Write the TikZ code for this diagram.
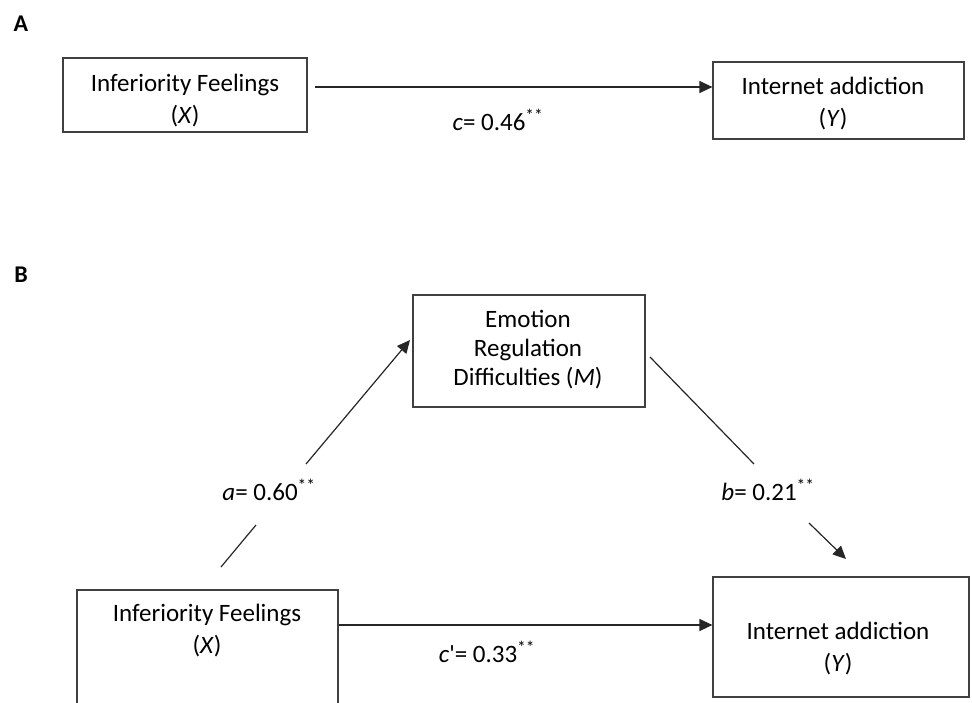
\documentclass[tikz,border=0pt]{standalone}
\usepackage{fontspec}
\setmainfont{Carlito}
\usetikzlibrary{arrows.meta}
\begin{document}
\begin{tikzpicture}[x=1pt,y=-1pt,
  box/.style={draw=black!75, line width=1.2pt, inner sep=0pt},
  txt/.style={align=center, inner sep=0pt, font=\fontsize{25}{32}\selectfont},
  lab/.style={inner sep=0pt, font=\fontsize{25}{30}\selectfont},
  panel/.style={inner sep=0pt, font=\bfseries\fontsize{24}{28}\selectfont},
  conn/.style={draw=black!85, line width=1.2pt},
  arr/.style={conn, -{Triangle[length=13pt,width=12pt]}}]
\clip (0,0) rectangle (972,702);
\fill[white] (0,0) rectangle (972,702);
% panel labels
\node[panel] (pA) at (21,24) {A};
\node[panel] (pB) at (21,275) {B};
% panel A
\node[box, minimum width=244pt, minimum height=74pt] (topX) at (185,95) {};
\node[txt] (topXt) at (185,101) {Inferiority Feelings\\(\textit{X})};
\node[box, minimum width=251pt, minimum height=77pt] (topY) at (838.5,100.5) {};
\node[txt] (topYt) at (833,104) {Internet addiction\\(\textit{Y})};
\coordinate (cs) at (315,87);
\draw[arr] (cs) -- (cs -| topY.west);
\node[lab] (cl) at (498,120) {\textit{c}= 0.46\textsuperscript{**}};
% panel B
\node[box, minimum width=232pt, minimum height=112pt] (M) at (529,351) {};
\node[txt, font=\fontsize{25}{29}\selectfont] (Mt) at (528,350) {Emotion\\Regulation\\Difficulties (\textit{M})};
\node[box, minimum width=261pt, minimum height=130pt] (botX) at (207.5,655) {};
\node[txt] (botXt) at (207,631) {Inferiority Feelings\\(\textit{X})};
\node[box, minimum width=256pt, minimum height=120pt] (botY) at (841,637) {};
\node[txt] (botYt) at (838,649) {Internet addiction\\(\textit{Y})};
% a path
\coordinate (a1) at (221,567);
\coordinate (a2) at (256,525);
\coordinate (a3) at (306,464);
\coordinate (a4) at (410,340);
\draw[conn] (a1) -- (a2);
\draw[arr] (a3) -- (a4);
\node[lab] (al) at (269,490) {\textit{a}= 0.60\textsuperscript{**}};
% b path
\coordinate (b1) at (650,357);
\coordinate (b2) at (754,464);
\coordinate (b3) at (809,523);
\coordinate (b4) at (846,559);
\draw[conn] (b1) -- (b2);
\draw[arr] (b3) -- (b4);
\node[lab] (bl) at (768,490) {\textit{b}= 0.21\textsuperscript{**}};
% c' path
\coordinate (cp) at (botX.east |- 0,625);
\draw[arr] (cp) -- (cp -| botY.west);
\node[lab] (cpl) at (487,652) {\textit{c}\textquotesingle= 0.33\textsuperscript{**}};
\end{tikzpicture}
\end{document}
